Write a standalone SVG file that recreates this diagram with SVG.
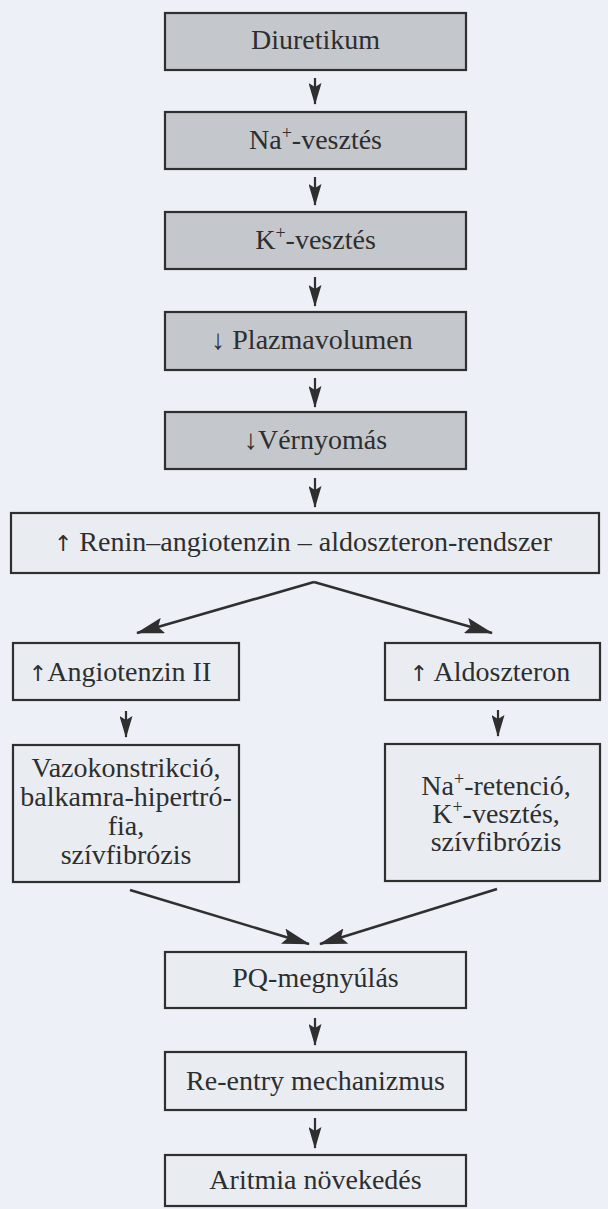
<svg xmlns="http://www.w3.org/2000/svg" width="608" height="1209" viewBox="0 0 608 1209">
<style>
  .bg { fill: #edf1f7; }
  .gray { fill: #c4c7cc; stroke: #2f2f2f; stroke-width: 2.2; }
  .light { fill: #e9edf2; stroke: #2f2f2f; stroke-width: 2.2; }
  text { font-family: 'Liberation Serif', serif; font-size: 28px; fill: #2e2e2e; text-anchor: middle; }
  .up { font-family: 'DejaVu Sans', sans-serif; font-size: 22px; }
  .arr { stroke: #2f2f2f; stroke-width: 2.2; fill: none; marker-end: url(#head); }
  .diag { stroke: #2f2f2f; stroke-width: 2.6; fill: none; marker-end: url(#bighead); }
  .sup { font-size: 18px; }
</style>
<defs>
  <marker id="head" viewBox="0 0 22 13" refX="21" refY="6.5" markerWidth="22" markerHeight="13" markerUnits="userSpaceOnUse" orient="auto">
    <path d="M0,0 L22,6.5 L0,13 L4,6.5 Z" fill="#2f2f2f"/>
  </marker>
  <marker id="bighead" viewBox="0 0 28 16" refX="27" refY="8" markerWidth="28" markerHeight="16" markerUnits="userSpaceOnUse" orient="auto">
    <path d="M0,0 L28,8 L0,16 L5,8 Z" fill="#2f2f2f"/>
  </marker>
</defs>
<rect class="bg" x="0" y="0" width="608" height="1209"/>

<g id="n-diuretikum">
  <rect class="gray" x="165" y="13" width="301" height="57"/>
  <text x="315.5" y="49">Diuretikum</text>
</g>
<g id="n-na-vesztes">
  <rect class="gray" x="165" y="112" width="301" height="57"/>
  <text x="315.5" y="149">Na<tspan class="sup" dy="-10">+</tspan><tspan dy="10">-vesztés</tspan></text>
</g>
<g id="n-k-vesztes">
  <rect class="gray" x="165" y="212" width="301" height="57"/>
  <text x="315.5" y="249">K<tspan class="sup" dy="-10">+</tspan><tspan dy="10">-vesztés</tspan></text>
</g>
<g id="n-plazmavolumen">
  <rect class="gray" x="165" y="312" width="301" height="58"/>
  <text x="312" y="349">↓ Plazmavolumen</text>
</g>
<g id="n-vernyomas">
  <rect class="gray" x="165" y="412" width="301" height="57"/>
  <text x="315.5" y="449">↓Vérnyomás</text>
</g>
<g id="n-raas">
  <rect class="light" x="11" y="513" width="588" height="60"/>
  <text x="303" y="551"><tspan class="up">↑</tspan> Renin–angiotenzin – aldoszteron-rendszer</text>
</g>
<g id="n-angiotenzin">
  <rect class="light" x="13" y="643" width="226" height="57"/>
  <text x="120" y="681"><tspan class="up">↑</tspan>Angiotenzin II</text>
</g>
<g id="n-aldoszteron">
  <rect class="light" x="385" y="643" width="215" height="57"/>
  <text x="490" y="681"><tspan class="up">↑</tspan> Aldoszteron</text>
</g>
<g id="n-vazokonstrikcio">
  <rect class="light" x="13" y="745" width="226" height="137"/>
  <text x="126" y="777">Vazokonstrikció,</text>
  <text x="126" y="806">balkamra-hipertró-</text>
  <text x="126" y="835">fia,</text>
  <text x="126" y="864">szívfibrózis</text>
</g>
<g id="n-na-retencio">
  <rect class="light" x="385" y="744" width="215" height="137"/>
  <text x="496" y="795">Na<tspan class="sup" dy="-10">+</tspan><tspan dy="10">-retenció,</tspan></text>
  <text x="496" y="823">K<tspan class="sup" dy="-10">+</tspan><tspan dy="10">-vesztés,</tspan></text>
  <text x="496" y="851">szívfibrózis</text>
</g>
<g id="n-pq">
  <rect class="light" x="165" y="952" width="301" height="56"/>
  <text x="315.5" y="987">PQ-megnyúlás</text>
</g>
<g id="n-reentry">
  <rect class="light" x="165" y="1052" width="301" height="58"/>
  <text x="315.5" y="1090">Re-entry mechanizmus</text>
</g>
<g id="n-aritmia">
  <rect class="light" x="165" y="1155" width="301" height="51"/>
  <text x="315.5" y="1189">Aritmia növekedés</text>
</g>

<g id="connectors">
  <line class="arr" x1="315" y1="78" x2="315" y2="104"/>
  <line class="arr" x1="315" y1="177" x2="315" y2="205"/>
  <line class="arr" x1="315" y1="277" x2="315" y2="306"/>
  <line class="arr" x1="315" y1="378" x2="315" y2="407"/>
  <line class="arr" x1="315" y1="478" x2="315" y2="507"/>
  <line class="diag" x1="314" y1="582" x2="137" y2="633"/>
  <line class="diag" x1="314" y1="582" x2="492" y2="633"/>
  <line class="arr" x1="126" y1="711" x2="126" y2="737"/>
  <line class="arr" x1="498" y1="710" x2="498" y2="736"/>
  <line class="diag" x1="130" y1="890" x2="309" y2="944"/>
  <line class="diag" x1="497" y1="889" x2="320" y2="944"/>
  <line class="arr" x1="315" y1="1018" x2="315" y2="1045"/>
  <line class="arr" x1="315" y1="1118" x2="315" y2="1148"/>
</g>
</svg>
